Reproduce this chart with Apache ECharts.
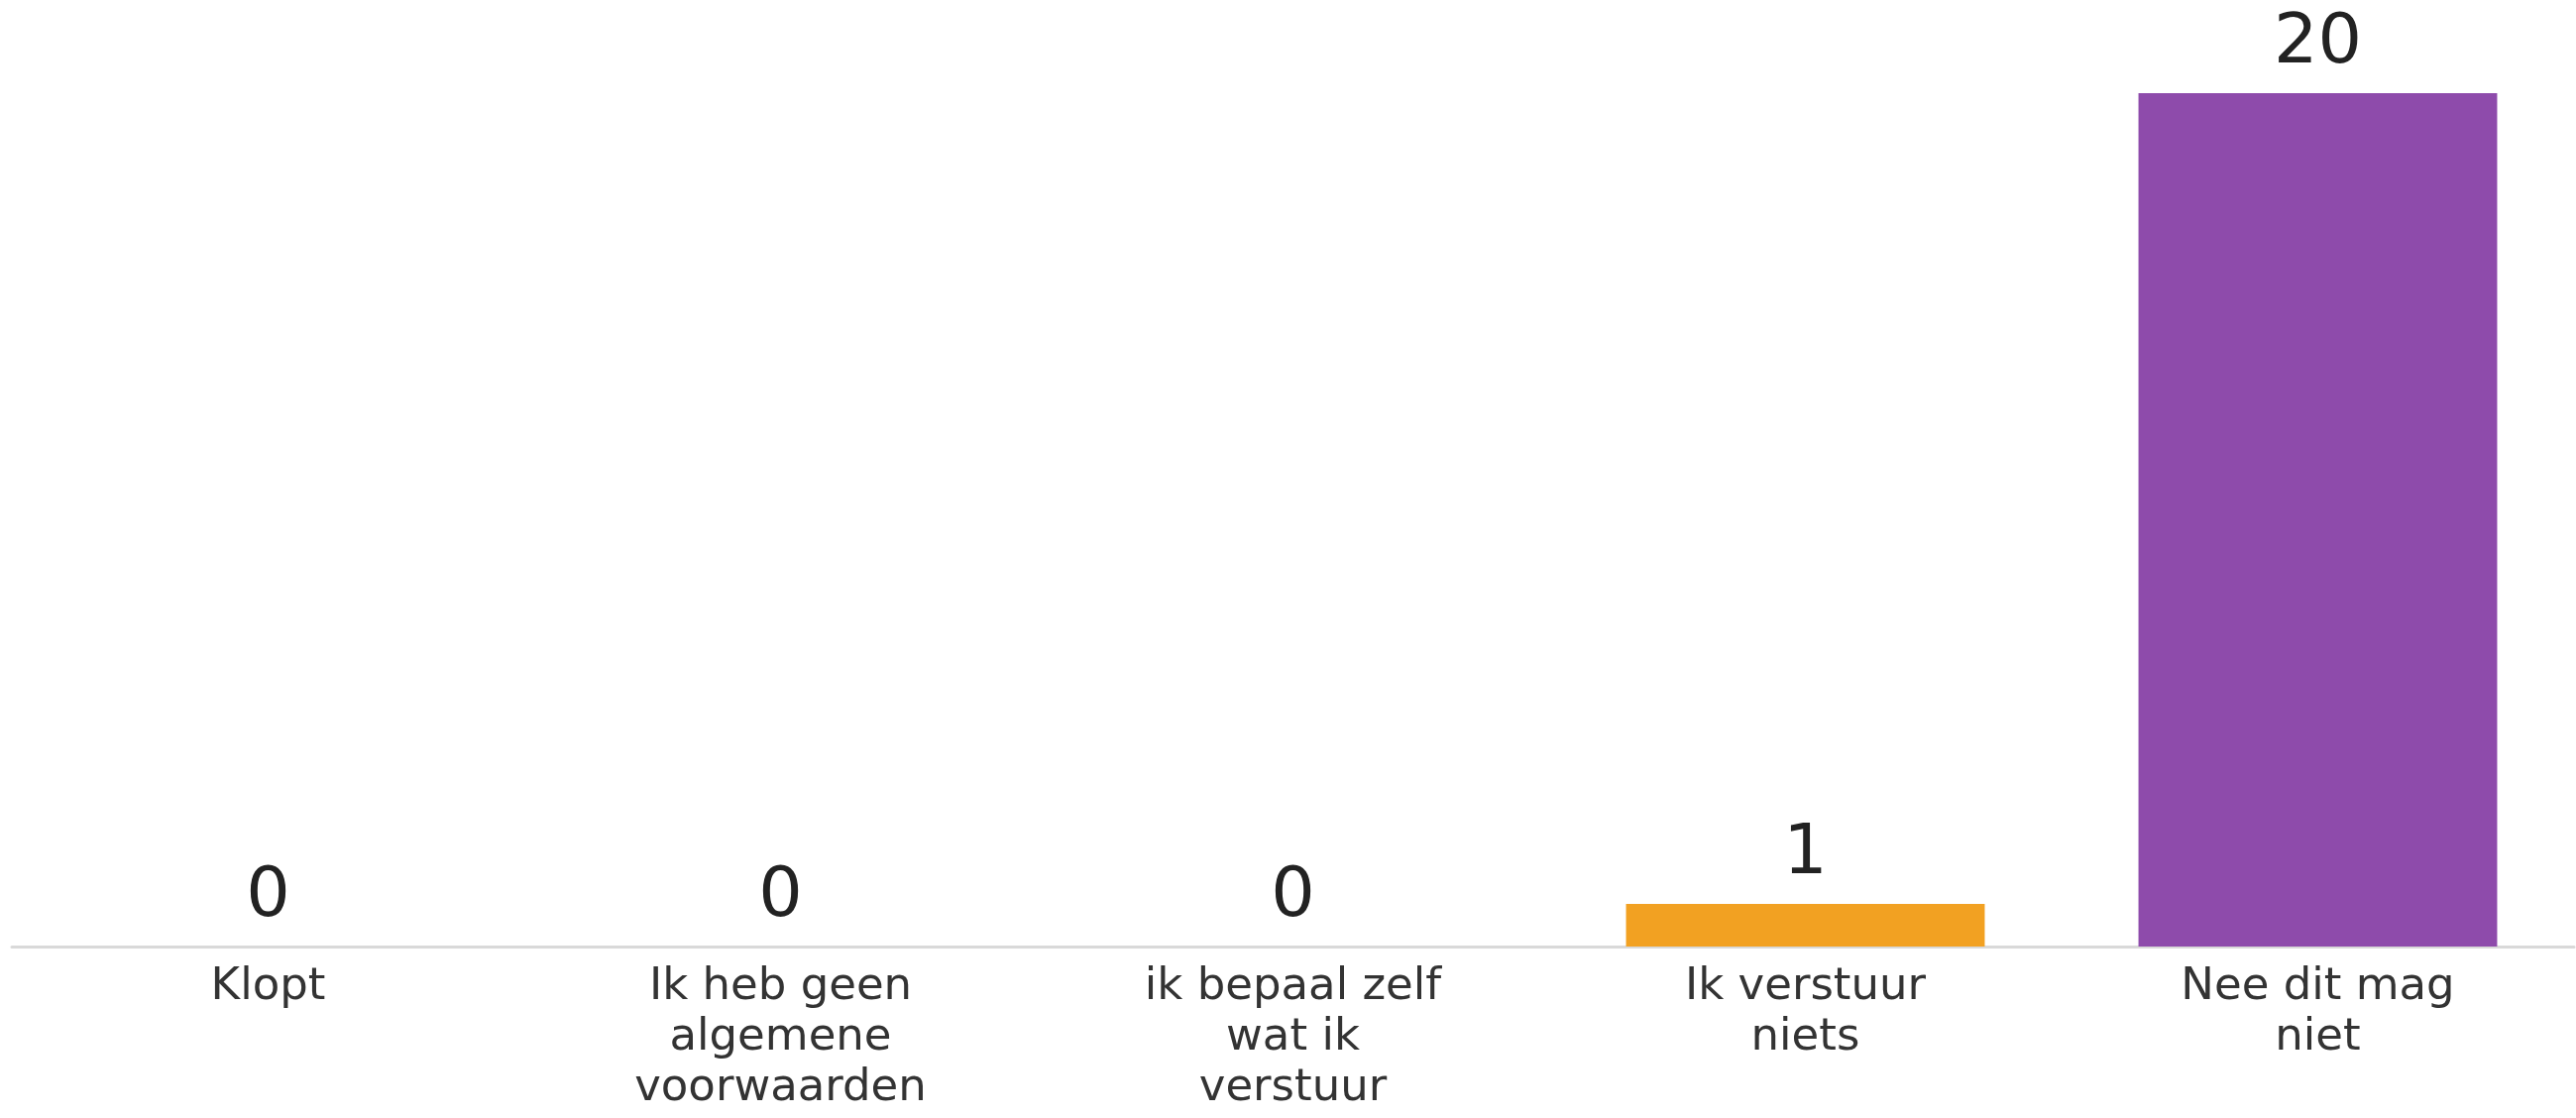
<!DOCTYPE html>
<html>
<head>
<meta charset="utf-8">
<script src="https://cdn.jsdelivr.net/npm/echarts@6/dist/echarts.min.js"></script>
<style>
html,body{margin:0;padding:0;background:#fff;}
#chart{width:2599px;height:1128px;}
</style>
</head>
<body>
<div id="chart"></div>
<script>
var categories = [
  "Klopt",
  "Ik heb geen\nalgemene\nvoorwaarden",
  "ik bepaal zelf\nwat ik\nverstuur",
  "Ik verstuur\nniets",
  "Nee dit mag\nniet"
];
var values = [0, 0, 0, 1, 20];
var barColors = ["#5B9BD5", "#2EAD8E", "#E0504F", "#F2A122", "#8E4BAB"];

var chart = echarts.init(document.getElementById('chart'), null, {renderer: 'canvas'});
chart.setOption({
  animation: false,
  backgroundColor: '#ffffff',
  grid: {left: 12, right: 2, top: 94, bottom: 173, containLabel: false},
  xAxis: {
    type: 'category',
    data: categories,
    axisLine: {show: true, lineStyle: {color: '#d9d9d9', width: 3}},
    axisTick: {show: false},
    axisLabel: {
      interval: 0,
      margin: 16,
      color: '#333333',
      fontFamily: 'DejaVu Sans, sans-serif',
      fontSize: 45,
      lineHeight: 51
    }
  },
  yAxis: {
    type: 'value',
    min: 0,
    max: 20,
    show: false,
    splitLine: {show: false}
  },
  series: [{
    type: 'bar',
    data: values.map(function (v, i) { return {value: v, itemStyle: {color: barColors[i]}}; }),
    barWidth: '70%',
    label: {
      show: true,
      position: 'top',
      distance: 14,
      color: '#222222',
      fontFamily: 'DejaVu Sans, sans-serif',
      fontSize: 70
    }
  }]
});
</script>
</body>
</html>
